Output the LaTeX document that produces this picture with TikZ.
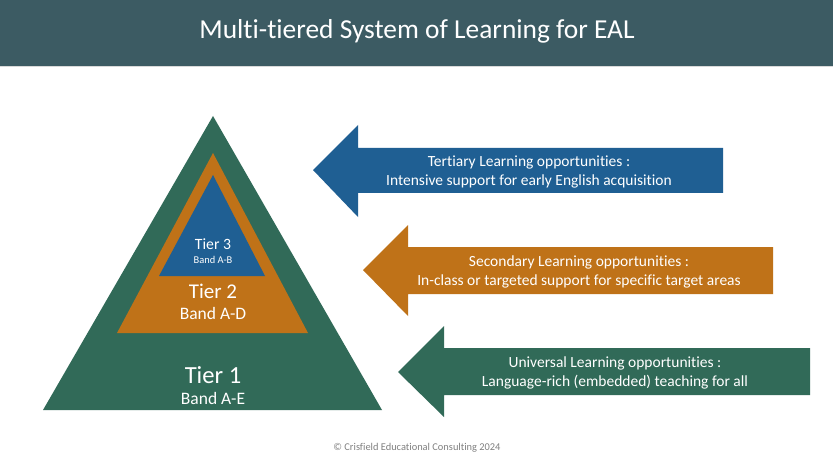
\documentclass[tikz,border=0pt]{standalone}
\usepackage{fontspec}
\setmainfont{Carlito}[Ligatures=NoCommon]
\definecolor{hdr}{HTML}{3C5B63}
\definecolor{tgreen}{HTML}{316A58}
\definecolor{torange}{HTML}{BF7218}
\definecolor{tblue}{HTML}{1F5F93}
\definecolor{cgray}{HTML}{808080}
\tikzset{
  lbl/.style={text=white, inner sep=0pt, align=center},
  arrtxt/.style={text=white, inner sep=0pt, align=center, font=\fontsize{15.5}{19}\selectfont},
}
\begin{document}
\begin{tikzpicture}[x=1pt,y=-1pt]
\useasboundingbox (0,0) rectangle (833,468);
\fill[white] (0,0) rectangle (833,468);
% header
\fill[hdr] (0,0) rectangle (833,66);
\draw[black!15, line width=0.8pt] (0,66.5) -- (833,66.5);
\node[lbl, font=\fontsize{27.4}{30}\selectfont] (title) at (417,31) {Multi-tiered System of Learning for EAL};
% pyramid
\fill[tgreen] (43,410) -- (382,410) -- (213,116) -- cycle;
\fill[torange] (117,333) -- (308,333) -- (213,153) -- cycle;
\fill[tblue] (159,276) -- (265,276) -- (213,175) -- cycle;
\node[lbl, font=\fontsize{15.7}{17}\selectfont] (t3) at (213,244) {Tier 3};
\node[lbl, font=\fontsize{10.4}{12}\selectfont] (b3) at (213,260) {Band A-B};
\node[lbl, font=\fontsize{21}{24}\selectfont] (t2) at (213,291) {Tier 2};
\node[lbl, font=\fontsize{17.5}{20}\selectfont] (b2) at (213,313) {Band A-D};
\node[lbl, font=\fontsize{24.6}{28}\selectfont] (t1) at (213,375) {Tier 1};
\node[lbl, font=\fontsize{17.5}{20}\selectfont] (b1) at (213,398) {Band A-E};
% arrows
\fill[tblue] (313,170) -- (358,125) -- (358,148) -- (723,148) -- (723,193) -- (358,193) -- (358,217) -- cycle;
\fill[torange] (363,270) -- (408,225) -- (408,247) -- (773,247) -- (773,294) -- (408,294) -- (408,316) -- cycle;
\fill[tgreen] (398,372) -- (444,326) -- (444,348) -- (810,348) -- (810,395) -- (444,395) -- (444,417) -- cycle;
\node[arrtxt] (a3) at (529,172.5) {Tertiary Learning opportunities :\\Intensive support for early English acquisition};
\node[arrtxt] (a2) at (579,272) {Secondary Learning opportunities :\\In-class or targeted support for specific target areas};
\node[arrtxt] (a1) at (615,372.5) {Universal Learning opportunities :\\Language-rich (embedded) teaching for all};
% footer
\node[text=cgray, inner sep=0pt, font=\fontsize{10.4}{12}\selectfont] (copy) at (417,448) {© Crisfield Educational Consulting 2024};
\end{tikzpicture}
\end{document}
